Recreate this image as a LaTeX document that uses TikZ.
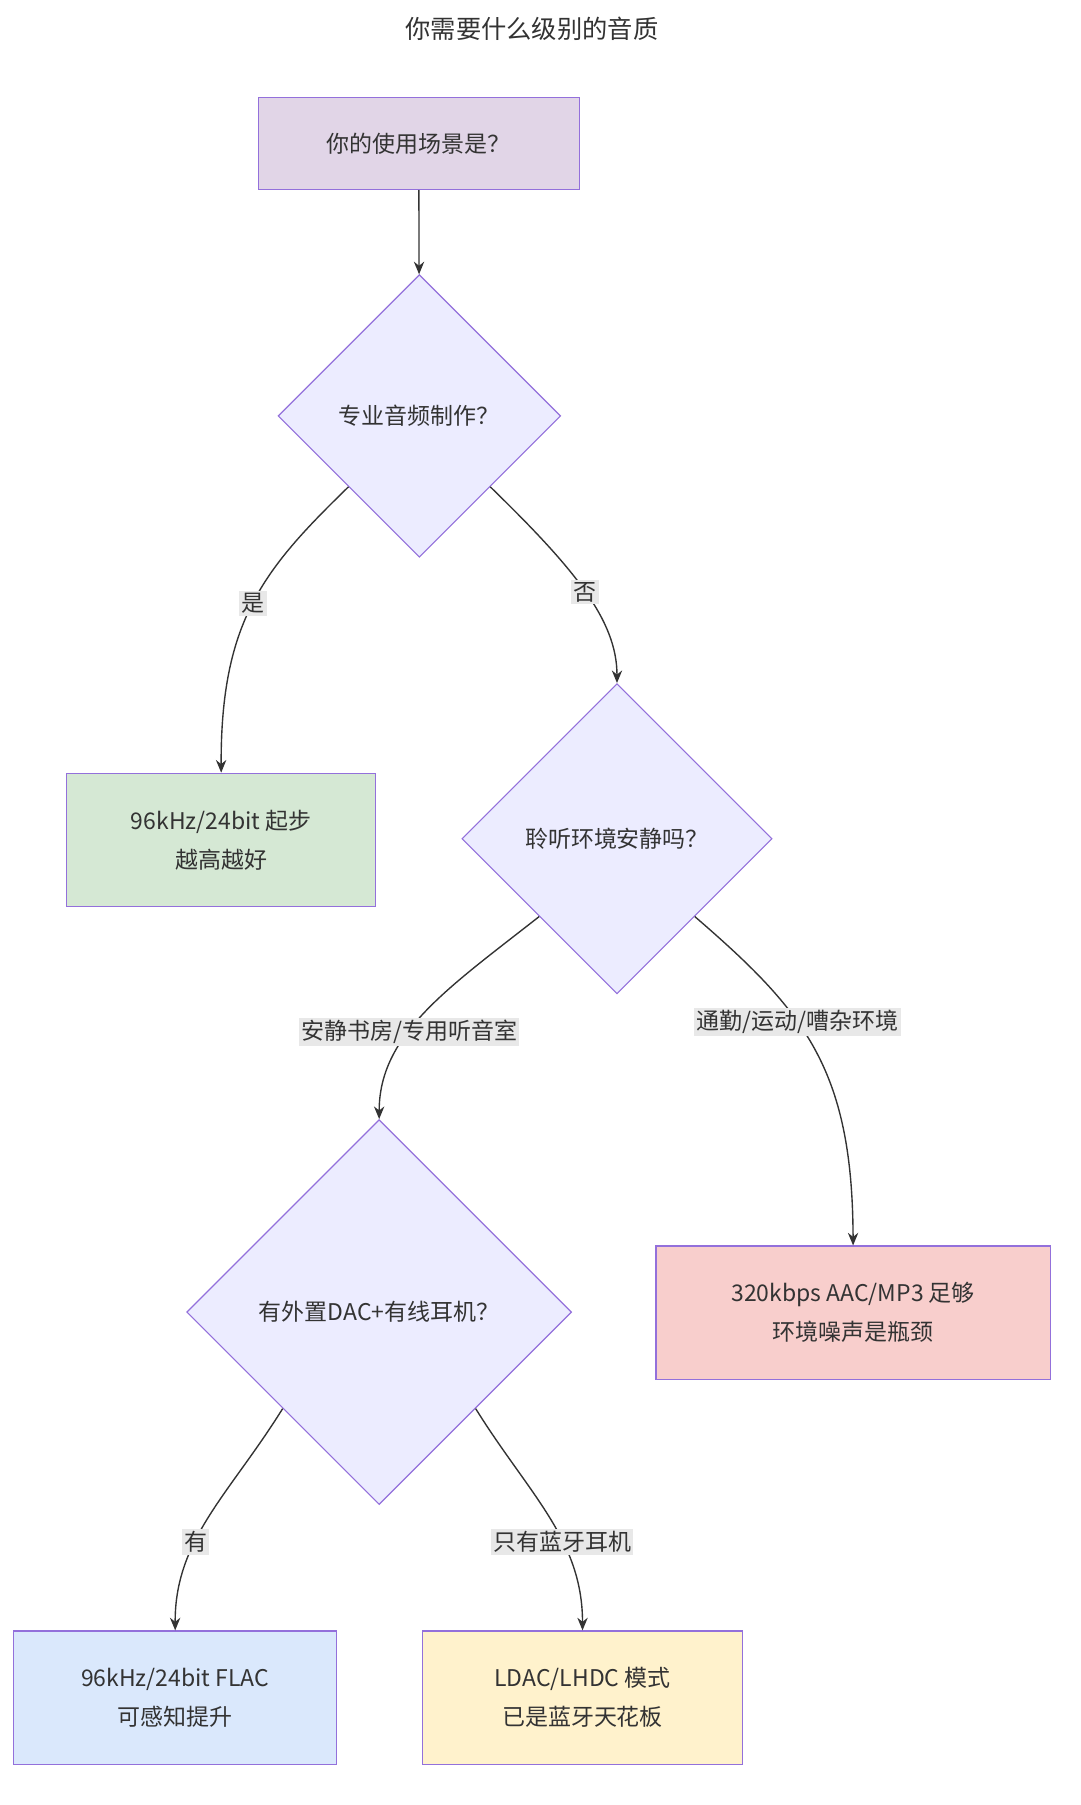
\documentclass[tikz,border=0pt]{standalone}
\usepackage{fontspec}
\setmainfont{Noto Sans CJK SC}
\usetikzlibrary{shapes.geometric,arrows.meta}
\definecolor{ink}{HTML}{333333}
\definecolor{edge}{HTML}{9370DB}
\definecolor{dfill}{HTML}{ECECFF}
\definecolor{lblbg}{HTML}{E8E8E8}
\tikzset{
  box/.style={draw=edge, line width=1pt, minimum height=116pt, align=center, text=ink, font=\fontsize{20}{34}\selectfont},
  dec/.style={diamond, draw=edge, fill=dfill, line width=1pt, inner sep=0pt, text=ink, font=\fontsize{20}{24}\selectfont},
  lbl/.style={fill=lblbg, inner sep=2pt, text=ink, font=\fontsize{20}{24}\selectfont},
  link/.style={draw=ink, line width=1.2pt, -{Stealth[length=11pt,width=9pt]}},
}
\begin{document}
\begin{tikzpicture}[x=1pt, y=-1pt]
  \useasboundingbox[fill=white] (0,0) rectangle (940,1571);
  \node[text=ink, font=\fontsize{22}{26}\selectfont] (title) at (463,25) {你需要什么级别的音质};

  \node[box, fill={rgb,255:red,225;green,213;blue,231}, minimum width=279pt, minimum height=80pt] (scene) at (364.5,125) {你的使用场景是？};
  \node[dec, minimum width=246pt, minimum height=246pt] (pro) at (365,362) {专业音频制作？};
  \node[box, fill={rgb,255:red,213;green,232;blue,212}, minimum width=269pt] (hires) at (192.5,731) {96kHz/24bit 起步\\越高越好};
  \node[dec, minimum width=270pt, minimum height=270pt] (quiet) at (537,730) {聆听环境安静吗？};
  \node[dec, minimum width=335pt, minimum height=335pt] (dac) at (330,1142) {有外置DAC+有线耳机？};
  \node[box, fill={rgb,255:red,248;green,206;blue,204}, minimum width=343pt] (mp3) at (742.5,1142.5) {320kbps AAC/MP3 足够\\环境噪声是瓶颈};
  \node[box, fill={rgb,255:red,218;green,232;blue,252}, minimum width=281pt] (flac) at (152.5,1477.5) {96kHz/24bit FLAC\\可感知提升};
  \node[box, fill={rgb,255:red,255;green,242;blue,204}, minimum width=278pt] (ldac) at (507,1477.5) {LDAC/LHDC 模式\\已是蓝牙天花板};

  \draw[link] (scene) -- (pro);
  \draw[link] (pro.south west) .. controls (230,495) and (192,540) .. node[lbl, pos=0.5] {是} (hires.north);
  \draw[link] (pro.south east) .. controls (500,495) and (537,540) .. node[lbl, pos=0.5] {否} (quiet.north);
  \draw[link] (quiet.south west) .. controls (390,860) and (330,900) .. node[lbl, pos=0.6] {安静书房/专用听音室} (dac.north);
  \draw[link] (quiet.south east) .. controls (700,880) and (742,930) .. node[lbl, pos=0.4] {通勤/运动/嘈杂环境} (mp3.north);
  \draw[link] (dac.south west) .. controls (200,1300) and (152,1340) .. node[lbl, pos=0.62] {有} (flac.north);
  \draw[link] (dac.south east) .. controls (460,1300) and (507,1340) .. node[lbl, pos=0.62] {只有蓝牙耳机} (ldac.north);
\end{tikzpicture}
\end{document}
